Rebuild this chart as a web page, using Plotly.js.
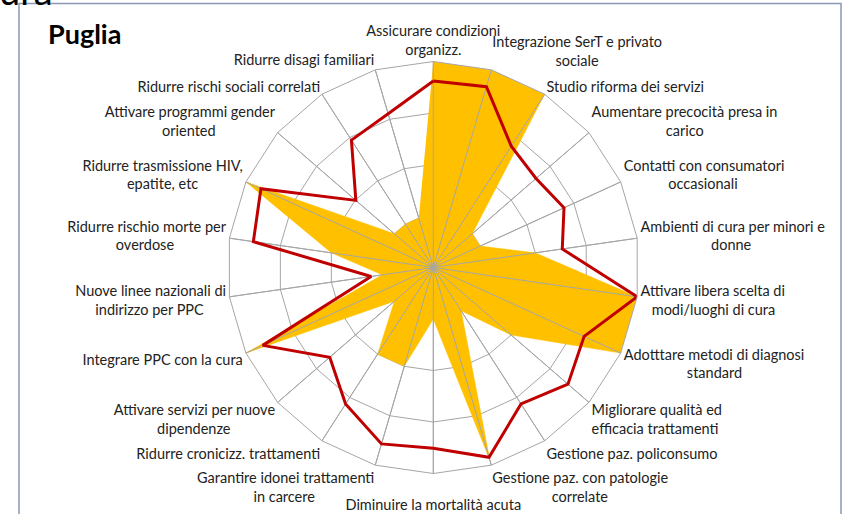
<!DOCTYPE html>
<html>
<head>
<meta charset="utf-8">
<script src="https://cdn.plot.ly/plotly-3.0.1.min.js"></script>
<style>
  html, body { margin: 0; padding: 0; background: white; }
  #chart { width: 846px; height: 514px; }
</style>
</head>
<body>
<div id="chart"></div>
<script>
// Radar chart "Puglia" — 22 obiettivi, regione (area) vs media (linea)

const CATEGORIES = [
    'Assicurare condizioni<br>organizz.',
    'Integrazione SerT e privato<br>sociale',
    'Studio riforma dei servizi',
    'Aumentare precocità presa in<br>carico',
    'Contatti con consumatori<br>occasionali',
    'Ambienti di cura per minori e<br>donne',
    'Attivare libera scelta di<br>modi/luoghi di cura',
    'Adotttare metodi di diagnosi<br>standard',
    'Migliorare qualità ed<br>efficacia trattamenti',
    'Gestione paz. policonsumo',
    'Gestione paz. con patologie<br>correlate',
    '<br>Diminuire la mortalità acuta',
    'Garantire idonei trattamenti<br>in carcere',
    'Ridurre cronicizz. trattamenti',
    'Attivare servizi per nuove<br>dipendenze',
    'Integrare PPC con la cura',
    'Nuove linee nazionali di<br>indirizzo per PPC',
    'Ridurre rischio morte per<br>overdose',
    'Ridurre trasmissione HIV,<br>epatite, etc',
    'Attivare programmi gender<br>oriented',
    'Ridurre rischi sociali correlati',
    'Ridurre disagi familiari',
];

// regione (area gialla)
const PUGLIA = [4, 4, 4, 1, 1, 2, 4, 4, 2, 1, 3.9, 1, 2, 2, 1, 4, 1, 2, 4, 1, 1, 1];
// media (linea rossa)
const MEDIA = [3.62, 3.66, 2.80, 2.64, 2.79, 2.53, 4.0, 3.22, 3.46, 3.15, 3.84,
               3.51, 3.57, 3.15, 2.66, 3.64, 1.22, 3.53, 3.68, 1.99, 2.94, 3.11];

const R_MAX = 4;
const W = 846, H = 514;
const FAMILY = 'Lato, Calibri, sans-serif';
const FONT = { family: FAMILY, color: '#222', size: 14.5 };
const GRID = '#a6a6a6';

// ── centre wrapped labels (tick text is aligned to one side by default) ──
const ctx = document.createElement('canvas').getContext('2d');
ctx.font = `${FONT.size}px Lato`;
const NBSP = '\u00a0';
function centerLines(label) {
    const lines = label.split('<br>');
    if (lines.length < 2) return label;
    const widths = lines.map(l => ctx.measureText(l).width);
    const maxW = Math.max(...widths);
    const sp = ctx.measureText(NBSP).width;
    return lines.map((l, i) => {
        if (!l) return l;
        const pad = NBSP.repeat(Math.round((maxW - widths[i]) / 2 / sp));
        return pad + l + pad;
    }).join('<br>');
}
const THETA = CATEGORIES.map(centerLines);

// spokes redrawn above the yellow fill, as in the original
const spokeTheta = [], spokeR = [];
THETA.forEach(c => { spokeTheta.push(c, c, null); spokeR.push(0, R_MAX, null); });

const traces = [
    {
        type: 'scatterpolar', name: 'Puglia',
        theta: THETA, r: PUGLIA,
        mode: 'lines', fill: 'toself', fillcolor: '#FFC000',
        line: { color: '#FFC000', width: 0.5 },
        hoverinfo: 'skip',
    },
    {
        type: 'scatterpolar', theta: spokeTheta, r: spokeR,
        mode: 'lines', line: { color: GRID, width: 1 },
        connectgaps: false, hoverinfo: 'skip',
    },
    {
        type: 'scatterpolar', name: 'Media',
        theta: THETA.concat([THETA[0]]), r: MEDIA.concat([MEDIA[0]]),
        mode: 'lines', line: { color: '#C00000', width: 3 },
        hoverinfo: 'skip',
    },
];

// polar centre / radius in pixels
const CX = 433.3, CY = 267.5, RAD = 206;

const layout = {
    width: W, height: H,
    paper_bgcolor: 'white',
    margin: { l: 0, r: 0, t: 0, b: 0 },
    showlegend: false,
    font: FONT,
    polar: {
        domain: {
            x: [(CX - RAD) / W, (CX + RAD) / W],
            y: [(H - CY - RAD) / H, (H - CY + RAD) / H],
        },
        bgcolor: 'white',
        gridshape: 'linear',
        angularaxis: {
            type: 'category', categoryarray: THETA,
            direction: 'clockwise', rotation: 90,
            showline: true, linecolor: GRID, linewidth: 1,
            gridcolor: GRID, ticks: '',
            tickfont: FONT,
        },
        radialaxis: {
            range: [0, R_MAX], dtick: 1,
            showticklabels: false, ticks: '', showline: false,
            gridcolor: GRID,
        },
    },
    shapes: [
        {
            type: 'path', xref: 'paper', yref: 'paper',
            path: `M ${19 / W},-0.02 L ${19 / W},${1 - 3.5 / H} L ${841 / W},${1 - 3.5 / H} L ${841 / W},-0.02`,
            line: { color: '#8b97b5', width: 1.5 },
        },
    ],
    annotations: [
        {
            text: '<b>Puglia</b>', xref: 'paper', yref: 'paper',
            x: 46 / W, y: 1 - 33 / H, xanchor: 'left', yanchor: 'middle',
            showarrow: false, font: { family: FAMILY, size: 27, color: '#000' },
        },
        {
            text: 'ura', xref: 'paper', yref: 'paper',
            x: -3 / W, y: 1 - 15 / H, xanchor: 'left', yanchor: 'bottom',
            showarrow: false, font: { family: FAMILY, size: 38, color: '#000' },
        },
    ],
};

Plotly.newPlot('chart', traces, layout, { displayModeBar: false, staticPlot: true });
</script>
</body>
</html>
